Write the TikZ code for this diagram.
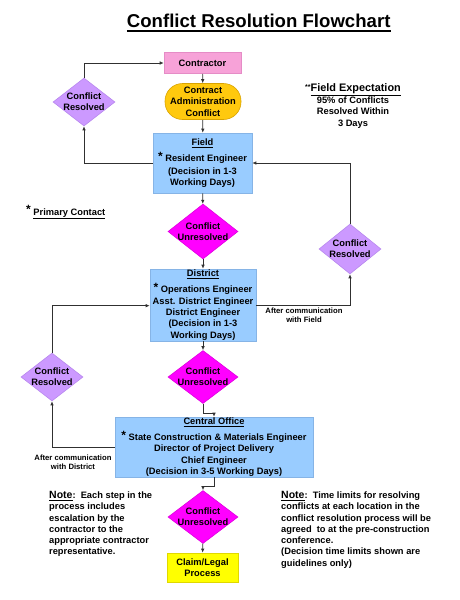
\documentclass[tikz,border=0pt]{standalone}
\usepackage{fontspec}
\setmainfont{Liberation Sans}
\usetikzlibrary{shapes.geometric,arrows.meta}
\definecolor{pinkfill}{HTML}{F7A2D8}
\definecolor{pinkline}{HTML}{E58CC6}
\definecolor{goldfill}{HTML}{FFC90E}
\definecolor{goldline}{HTML}{D9A300}
\definecolor{bluefill}{HTML}{99CCFF}
\definecolor{blueline}{HTML}{86B4E6}
\definecolor{lavfill}{HTML}{CC99FF}
\definecolor{lavline}{HTML}{B888EE}
\definecolor{magfill}{HTML}{FF00FF}
\definecolor{magline}{HTML}{E000E0}
\definecolor{yelfill}{HTML}{FFFF00}
\definecolor{yelline}{HTML}{E0D800}
\definecolor{linec}{HTML}{303030}
\newcommand{\pstar}{\raisebox{1.5pt}{\fontsize{12}{12}\selectfont *}}
\newcommand{\nsz}{\fontsize{9.3}{11.3}\selectfont}
\begin{document}
\begin{tikzpicture}[x=1pt,y=-1pt,
  every node/.style={font=\bfseries\nsz},
  boxbase/.style={draw, line width=0.6pt, inner sep=0pt, align=center},
  contrbox/.style={boxbase, fill=pinkfill, draw=pinkline, minimum width=77pt, minimum height=21pt},
  stadium/.style={boxbase, fill=goldfill, draw=goldline, rounded corners=17.5pt, minimum width=76pt, minimum height=36pt},
  officebox/.style={boxbase, fill=bluefill, draw=blueline},
  claimbox/.style={boxbase, fill=yelfill, draw=yelline, minimum width=71pt, minimum height=29pt},
  resdiam/.style={diamond, draw=lavline, fill=lavfill, line width=0.6pt, inner sep=0pt, minimum width=62pt, minimum height=48pt,
     label={[align=center, font=\bfseries\nsz]center:Conflict\\Resolved}},
  unresdiam/.style={diamond, draw=magline, fill=magfill, line width=0.6pt, inner sep=0pt, minimum width=70pt, minimum height=53pt,
     label={[align=center, font=\bfseries\nsz]center:Conflict\\Unresolved}},
  conn/.style={draw=linec, line width=0.7pt},
  arr/.style={conn, -{Latex[length=4pt,width=3.5pt]}},
  smalltext/.style={font=\bfseries\fontsize{7.7}{9.3}\selectfont, align=center, inner sep=0pt},
  notetext/.style={align=left, inner sep=0pt, anchor=north west}
]
\useasboundingbox (0,0) rectangle (459,600);

% title
\node[anchor=base, inner sep=0pt, font=\bfseries\fontsize{18.6}{20}\selectfont] (title) at (258.7,27.3) {Conflict Resolution Flowchart};
\draw[line width=1.6pt] ([yshift=-3.8pt]title.base west) -- ([yshift=-3.8pt]title.base east);

% main column
\node[contrbox] (contractor) at (202.5,63) {Contractor};
\node[stadium] (admin) at (203,101.5) {Contract\\Administration\\Conflict};
\node[officebox, minimum width=99pt, minimum height=60pt] (field) at (202.5,163)
  {\underline{Field}\\[3.5pt]\pstar\ Resident Engineer\\[1pt](Decision in 1-3\\Working Days)};
\node[unresdiam, minimum height=55pt] (unres1) at (203,231.5) {};
\node[officebox, minimum width=106pt, minimum height=72pt] (district) at (203,305)
  {\underline{District}\\[3.5pt]\pstar\ Operations Engineer\\Asst. District Engineer\\District Engineer\\(Decision in 1-3\\Working Days)};
\node[unresdiam] (unres2) at (203,377) {};
\node[officebox, minimum width=198pt, minimum height=60pt] (central) at (214,447)
  {\underline{Central Office}\\[3.5pt]\pstar\ State Construction \& Materials Engineer\\Director of Project Delivery\\Chief Engineer\\(Decision in 3-5 Working Days)};
\node[unresdiam] (unres3) at (203,517) {};
\node[claimbox] (claim) at (202.5,567.5) {Claim/Legal\\Process};

% side diamonds
\node[resdiam] (res1) at (84,102) {};
\node[resdiam, minimum height=50pt] (res2) at (350,249) {};
\node[resdiam] (res3) at (52,377) {};

% main flow
\draw[arr] (contractor) -- (admin);
\draw[arr] (admin) -- (field);
\draw[arr] (field) -- (unres1);
\draw[arr] (unres1) -- (district);
\draw[arr] (district) -- (unres2);
\draw[arr] (unres2.south) -- ++(0,10) -| (central.north);
\draw[arr] (central.south) -- ++(0,9) -| (unres3.north);
\draw[arr] (unres3) -- (claim);

% loops
\draw[arr] (field.west) -| (res1.south);
\draw[arr] (res1.north) |- (contractor.west);
\draw[arr] ([yshift=-0.7pt]district.east) -| (res2.south);
\draw[arr] (res2.north) |- (field.east);
\draw[arr] (res3.north) |- ([yshift=-0.7pt]district.west);
\draw[arr] (central.west) -| (res3.south);

% labels
\node[smalltext] (afterfield) at (304,315.5) {After communication\\with Field};
\node[smalltext] (afterdistrict) at (73,462) {After communication\\with District};

\node[anchor=base west, inner sep=0pt] (primary) at (26,215) {\pstar\ \underline{Primary Contact}};

\node[align=center, inner sep=0pt] (expect) at (353,106)
  {\raisebox{2.5pt}{\fontsize{7}{7}\selectfont **}{\fontsize{10.9}{12}\selectfont\underline{Field Expectation}}\\[0.5pt]95\% of Conflicts\\Resolved Within\\3 Days};

\node[notetext] (noteleft) at (49,491)
  {{\fontsize{10.5}{11.3}\selectfont\underline{Note}}:\ \ Each step in the\\process includes\\escalation by the\\contractor to the\\appropriate contractor\\representative.};
\node[notetext] (noteright) at (281,491)
  {{\fontsize{10.5}{11.3}\selectfont\underline{Note}}:\ \ Time limits for resolving\\conflicts at each location in the\\conflict resolution process will be\\agreed\ \ to at the pre-construction\\conference.\\(Decision time limits shown are\\guidelines only)};
\end{tikzpicture}
\end{document}
